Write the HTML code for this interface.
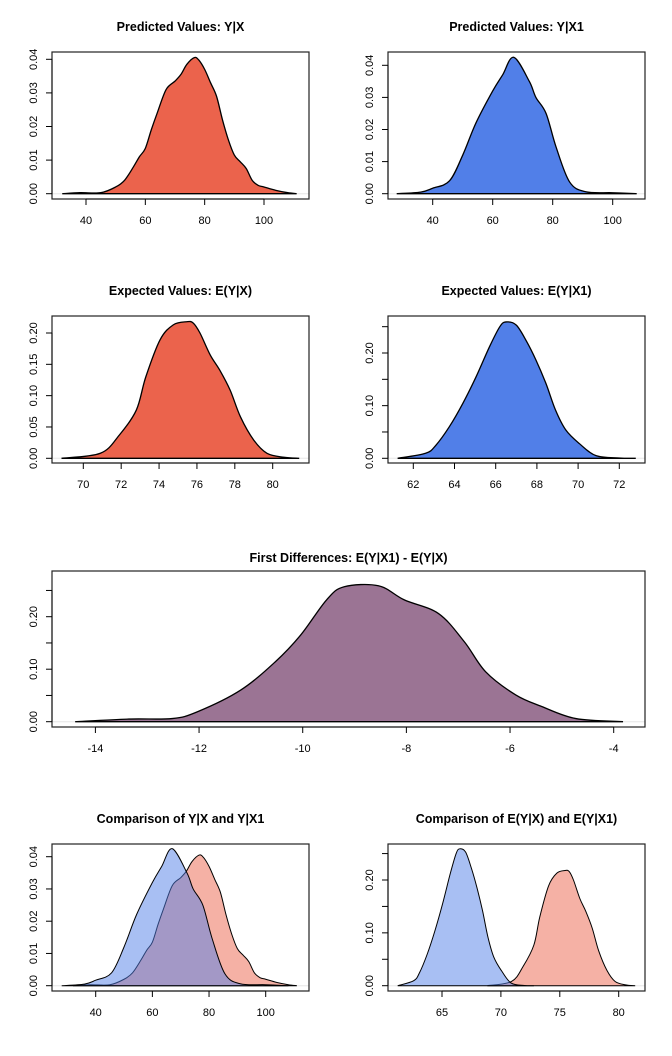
<!DOCTYPE html>
<html><head><meta charset="utf-8"><style>
html,body{margin:0;padding:0;background:#fff}
svg{display:block}
text{font-family:"Liberation Sans",Arial,sans-serif;fill:#000}
</style></head><body>
<svg id="c" width="672" height="1056" viewBox="0 0 672 1056" xmlns="http://www.w3.org/2000/svg"></svg>
<script>
// ---- data ----
const pvX_x=[32,38,45,50,53,56,58,60,62,64,67,70,72,74,76.5,78,80,82,84,86,88,90,92,94,96,98,100,104,108,111];
const pvX_y=[0,0.0003,0.0003,0.002,0.004,0.008,0.011,0.0135,0.019,0.024,0.031,0.0335,0.0355,0.0385,0.0405,0.0398,0.037,0.033,0.029,0.022,0.016,0.0115,0.0095,0.0075,0.004,0.0025,0.002,0.001,0.0003,0];
const pvX1_x=[28,36,40,45.6,50,54.4,60,63.3,67,72.2,74.4,77.8,81.1,85.6,91,100,108];
const pvX1_y=[0,0.0005,0.0017,0.004,0.012,0.022,0.032,0.037,0.0425,0.035,0.030,0.025,0.0146,0.0037,0.0006,0.0003,0];
const evX_x=[68.85,70.9,71.9,72.8,73.3,74.05,74.75,75.46,75.8,76.16,76.7,77.2,77.75,78.3,79,79.7,80.6,81.4];
const evX_y=[0,0.008,0.037,0.077,0.13,0.189,0.213,0.218,0.216,0.2,0.165,0.141,0.109,0.066,0.029,0.008,0.0016,0];
const evX1_x=[61.24,62.6,63.1,63.75,64.4,65.05,65.7,66.2,66.5,67,67.5,67.95,68.44,68.9,69.4,70.06,70.87,72,72.8];
const evX1_y=[0,0.0095,0.025,0.06,0.104,0.155,0.212,0.25,0.259,0.253,0.222,0.187,0.142,0.092,0.054,0.028,0.005,0.0005,0];
const fd_x=[-14.39,-13.35,-12.52,-12.03,-11.2,-10.53,-10.04,-9.54,-9.2,-8.54,-8.04,-7.38,-6.88,-6.47,-5.89,-5.39,-4.73,-3.82];
const fd_y=[0,0.005,0.006,0.019,0.06,0.114,0.165,0.232,0.257,0.259,0.232,0.206,0.152,0.095,0.051,0.029,0.006,0];
const ticksPV=[40,60,80,100];
const ticksEVX=[70,72,74,76,78,80];
const ticksEVX1=[62,64,66,68,70,72];
const ticksFD=[-14,-12,-10,-8,-6,-4];
const ticksCmpEV=[65,70,75,80];
const yTicksPV=[0,0.01,0.02,0.03,0.04];
const yLabPV=["0.00","0.01","0.02","0.03","0.04"];
const yTicksEVX=[0,0.05,0.1,0.15,0.2];
const yLabEVX=["0.00","0.05","0.10","0.15","0.20"];
const yTicks25=[0,0.05,0.1,0.15,0.2,0.25];
const yLab25=["0.00","","0.10","","0.20",""];

const NS="http://www.w3.org/2000/svg";
const svg=document.getElementById('c');
function el(tag,attrs,parent){const e=document.createElementNS(NS,tag);for(const k in attrs)e.setAttribute(k,attrs[k]);(parent||svg).appendChild(e);return e;}
function lin(v0,p0,v1,p1){return v=>p0+(v-v0)*(p1-p0)/(v1-v0);}
function smoothPath(pts){let d=`M${pts[0][0]},${pts[0][1]}`;for(let i=0;i<pts.length-1;i++){const p0=pts[Math.max(0,i-1)],p1=pts[i],p2=pts[i+1],p3=pts[Math.min(pts.length-1,i+2)];
const c1=[p1[0]+(p2[0]-p0[0])/6,p1[1]+(p2[1]-p0[1])/6],c2=[p2[0]-(p3[0]-p1[0])/6,p2[1]-(p3[1]-p1[1])/6];d+=`C${c1[0]},${c1[1]} ${c2[0]},${c2[1]} ${p2[0]},${p2[1]}`;}return d;}

function panel(cfg){
  const g=el('g',{});
  
  
  const sx=lin(cfg.xc[0],cfg.xc[1],cfg.xc[2],cfg.xc[3]);
  const sy=lin(cfg.yc[0],cfg.yc[1],cfg.yc[2],cfg.yc[3]);
  const t=el('text',{x:(cfg.box[0]+cfg.box[2])/2,y:cfg.titleY,'text-anchor':'middle','font-size':'12.5','font-weight':'bold'},g);
  t.textContent=cfg.title;
  
  
  const bl=el('line',{x1:cfg.box[0],x2:cfg.box[2],y1:sy(0),y2:sy(0),stroke:'#e6e6e6','stroke-width':1},g);
  
  
  cfg.series.forEach(s=>{
    const pts=s.x.map((v,i)=>[sx(v),sy(s.y[i])]);
    const d=smoothPath(pts)+'Z';
    const p=el('path',{d:d,fill:s.fill,'fill-opacity':s.op,stroke:'#000','stroke-width':s.sw||1.3},g);
    
    
  });
  const [L,T,R,B]=cfg.box;
  const bx=el('rect',{x:L,y:T,width:R-L,height:B-T,fill:'none',stroke:'#222','stroke-width':1.2},g);
  
  
  const xa=el('g',{},g);
  
  
  const xs=cfg.xt.map(sx);
  el('line',{x1:xs[0],x2:xs[xs.length-1],y1:B,y2:B,stroke:'#000','stroke-width':1},xa);
  cfg.xt.forEach((v,i)=>{
    el('line',{x1:xs[i],x2:xs[i],y1:B,y2:B+6,stroke:'#000','stroke-width':1},xa);
    const tx=el('text',{x:xs[i],y:B+25,'text-anchor':'middle','font-size':'11'},xa);
    tx.textContent=String(v);
    
    
  });
  const ya=el('g',{},g);
  
  
  const ys=cfg.yt.map(sy);
  el('line',{x1:L,x2:L,y1:ys[0],y2:ys[ys.length-1],stroke:'#000','stroke-width':1},ya);
  cfg.yt.forEach((v,i)=>{
    el('line',{x1:L-6,x2:L,y1:ys[i],y2:ys[i],stroke:'#000','stroke-width':1},ya);
    if(cfg.yl[i]){
      const tx=el('text',{x:0,y:0,'text-anchor':'middle','font-size':'11',transform:`translate(${L-15},${ys[i]}) rotate(-90)`},ya);
      tx.textContent=cfg.yl[i];
      
      
    }
  });
}
const RED='#EB634C',BLUE='#517FE8',PURP='#9B7494';
panel({name:'pv-y-x-panel',title:'Predicted Values: Y|X',titleY:31,box:[52,52,309,199],xc:[40,86,100,264],yc:[0,193.7,0.04,59.3],xt:ticksPV,yt:yTicksPV,yl:yLabPV,
  series:[{name:'density-y-x',x:pvX_x,y:pvX_y,fill:RED,op:1}]});
panel({name:'pv-y-x1-panel',title:'Predicted Values: Y|X1',titleY:31,box:[388,52,645,199],xc:[40,432.7,100,612.7],yc:[0,193.7,0.04,65.3],xt:ticksPV,yt:yTicksPV,yl:yLabPV,
  series:[{name:'density-y-x1',x:pvX1_x,y:pvX1_y,fill:BLUE,op:1}]});
panel({name:'ev-y-x-panel',title:'Expected Values: E(Y|X)',titleY:295,box:[52,316,309,463],xc:[70,83.3,80,272.7],yc:[0,458.3,0.2,333],xt:ticksEVX,yt:yTicksEVX,yl:yLabEVX,
  series:[{name:'density-ev-x',x:evX_x,y:evX_y,fill:RED,op:1}]});
panel({name:'ev-y-x1-panel',title:'Expected Values: E(Y|X1)',titleY:295,box:[388,316,645,463],xc:[62,413.3,72,619.3],yc:[0,458.3,0.2,353],xt:ticksEVX1,yt:yTicks25,yl:yLab25,
  series:[{name:'density-ev-x1',x:evX1_x,y:evX1_y,fill:BLUE,op:1}]});
panel({name:'first-differences-panel',title:'First Differences: E(Y|X1) - E(Y|X)',titleY:562,box:[52,571,645,727],xc:[-14,95.4,-4,613.7],yc:[0,721.7,0.2,616.7],xt:ticksFD,yt:yTicks25,yl:yLab25,
  series:[{name:'density-first-diff',x:fd_x,y:fd_y,fill:PURP,op:1}]});
panel({name:'compare-pv-panel',title:'Comparison of Y|X and Y|X1',titleY:823,box:[52,844,309,991],xc:[40,95.7,100,265.7],yc:[0,985.7,0.04,856.7],xt:ticksPV,yt:yTicksPV,yl:yLabPV,
  series:[{name:'density-y-x-compare',x:pvX_x,y:pvX_y,fill:RED,op:0.5,sw:1},{name:'density-y-x1-compare',x:pvX1_x,y:pvX1_y,fill:BLUE,op:0.5,sw:1}]});
panel({name:'compare-ev-panel',title:'Comparison of E(Y|X) and E(Y|X1)',titleY:823,box:[388,844,645,991],xc:[65,442,80,618.7],yc:[0,985.7,0.2,880],xt:ticksCmpEV,yt:yTicks25,yl:yLab25,
  series:[{name:'density-ev-x-compare',x:evX_x,y:evX_y,fill:RED,op:0.5,sw:1},{name:'density-ev-x1-compare',x:evX1_x,y:evX1_y,fill:BLUE,op:0.5,sw:1}]});
</script>
</body></html>
